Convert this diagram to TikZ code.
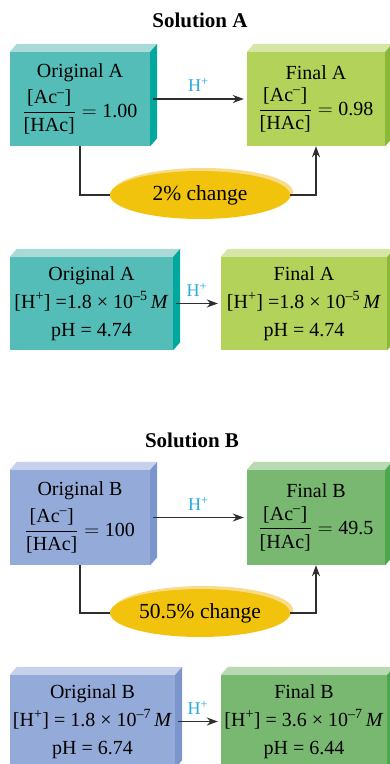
\documentclass[tikz,border=0pt]{standalone}
\usepackage{amsmath}
\usepackage{fontspec}
\setmainfont{Liberation Serif}
\usetikzlibrary{arrows.meta, positioning, shapes.geometric}
\definecolor{tealfront}{HTML}{55BDB8}
\definecolor{tealtop}{HTML}{A9DAD7}
\definecolor{tealside}{HTML}{00A89E}
\definecolor{limefront}{HTML}{B2D25A}
\definecolor{limetop}{HTML}{D5E6A6}
\definecolor{limeside}{HTML}{8CB83A}
\definecolor{bluefront}{HTML}{94AAD8}
\definecolor{bluetop}{HTML}{C6D1EB}
\definecolor{blueside}{HTML}{7D95CD}
\definecolor{greenfront}{HTML}{78B870}
\definecolor{greentop}{HTML}{B9D9B2}
\definecolor{greenside}{HTML}{4CA84A}
\definecolor{gold}{HTML}{F2C30C}
\definecolor{goldrim}{HTML}{F8DC8C}
\definecolor{hplus}{HTML}{27AAE1}
\definecolor{linegray}{HTML}{2E2E2E}
\newcommand{\ratio}[1]{$\dfrac{\text{[Ac\textsuperscript{–}]}}{\text{[HAc]}} = \text{#1}$}

\begin{document}
\begin{tikzpicture}[x=1pt, y=-1pt, >={Stealth[length=11pt,width=8pt]},
  cube/.style={rectangle, inner sep=0pt, align=center, font=\fontsize{20}{28}\selectfont},
  change/.style={ellipse, fill=gold, minimum width=180pt, minimum height=48pt, inner sep=0pt, font=\fontsize{21.5}{24}\selectfont},
  flow/.style={draw=linegray, line width=1.5pt},
  ion/.style={text=hplus, font=\fontsize{18}{20}\selectfont, above=3pt},
  heading/.style={font=\bfseries\fontsize{21}{24}\selectfont}]
  \clip (0,0) rectangle (390,764);
  % Solution A
  \node[heading] (titleA) at (200,20) {Solution A};
  \node[cube, fill=tealfront, minimum width=140pt, minimum height=94pt] (origA) at (80,99) {Original A\\[7pt] \ratio{1.00}};
  \node[cube, fill=limefront, minimum width=138pt, minimum height=94pt] (finA) at (316,99) {Final A\\[7pt] \ratio{0.98}};
  \node[change, fill=goldrim] (rimA) at (203,192) {};
  \node[change] (chgA) at (200,195) {2\% change};
  \node[cube, fill=tealfront, minimum width=163pt, minimum height=93pt] (origA2) at (91.5,303.5) {Original A\\ {[H\textsuperscript{+}] =1.8 × 10\textsuperscript{–5}\,\textit{M}}\\ pH = 4.74};
  \node[cube, fill=limefront, minimum width=166pt, minimum height=93pt] (finA2) at (304,303.5) {Final A\\ {[H\textsuperscript{+}] =1.8 × 10\textsuperscript{–5}\,\textit{M}}\\ pH = 4.74};
  % Solution B
  \node[heading] (titleB) at (192,440) {Solution B};
  \node[cube, fill=bluefront, minimum width=140pt, minimum height=95pt] (origB) at (80,517.5) {Original B\\[7pt] \ratio{100}};
  \node[cube, fill=greenfront, minimum width=138pt, minimum height=95pt] (finB) at (316,517.5) {Final B\\[7pt] \ratio{49.5}};
  \node[change, fill=goldrim] (rimB) at (203,610) {};
  \node[change] (chgB) at (200,613) {50.5\% change};
  \node[cube, fill=bluefront, minimum width=165pt, minimum height=93pt] (origB2) at (92.5,721.5) {Original B\\ {[H\textsuperscript{+}] = 1.8 × 10\textsuperscript{–7}\,\textit{M}}\\ pH = 6.74};
  \node[cube, fill=greenfront, minimum width=166pt, minimum height=93pt] (finB2) at (304,721.5) {Final B\\ {[H\textsuperscript{+}] = 3.6 × 10\textsuperscript{–7}\,\textit{M}}\\ pH = 6.44};
  % top and side faces
  \foreach \n/\t/\s in {origA/tealtop/tealside, finA/limetop/limeside, origA2/tealtop/tealside, finA2/limetop/limeside,
      origB/bluetop/blueside, finB/greentop/greenside, origB2/bluetop/blueside, finB2/greentop/greenside}{
    \fill[\t] (\n.north west) -- ++(7,-8) -- ([shift={(7,-8)}]\n.north east) -- (\n.north east) -- cycle;
    \fill[\s] (\n.north east) -- ++(7,-8) -- ([shift={(7,-8)}]\n.south east) -- (\n.south east) -- cycle;
  }
  % connectors
  \foreach \a/\b in {origA/finA, origA2/finA2, origB/finB, origB2/finB2}
    \draw[flow, ->, shorten <=3pt, shorten >=3pt] (\a) -- node[ion] {H\textsuperscript{+}} (\b);
  \draw[flow] (origA.south) |- (chgA.west);
  \draw[flow, ->] (chgA.east) -| (finA.south);
  \draw[flow] (origB.south) |- (chgB.west);
  \draw[flow, ->] (chgB.east) -| (finB.south);
\end{tikzpicture}
\end{document}
